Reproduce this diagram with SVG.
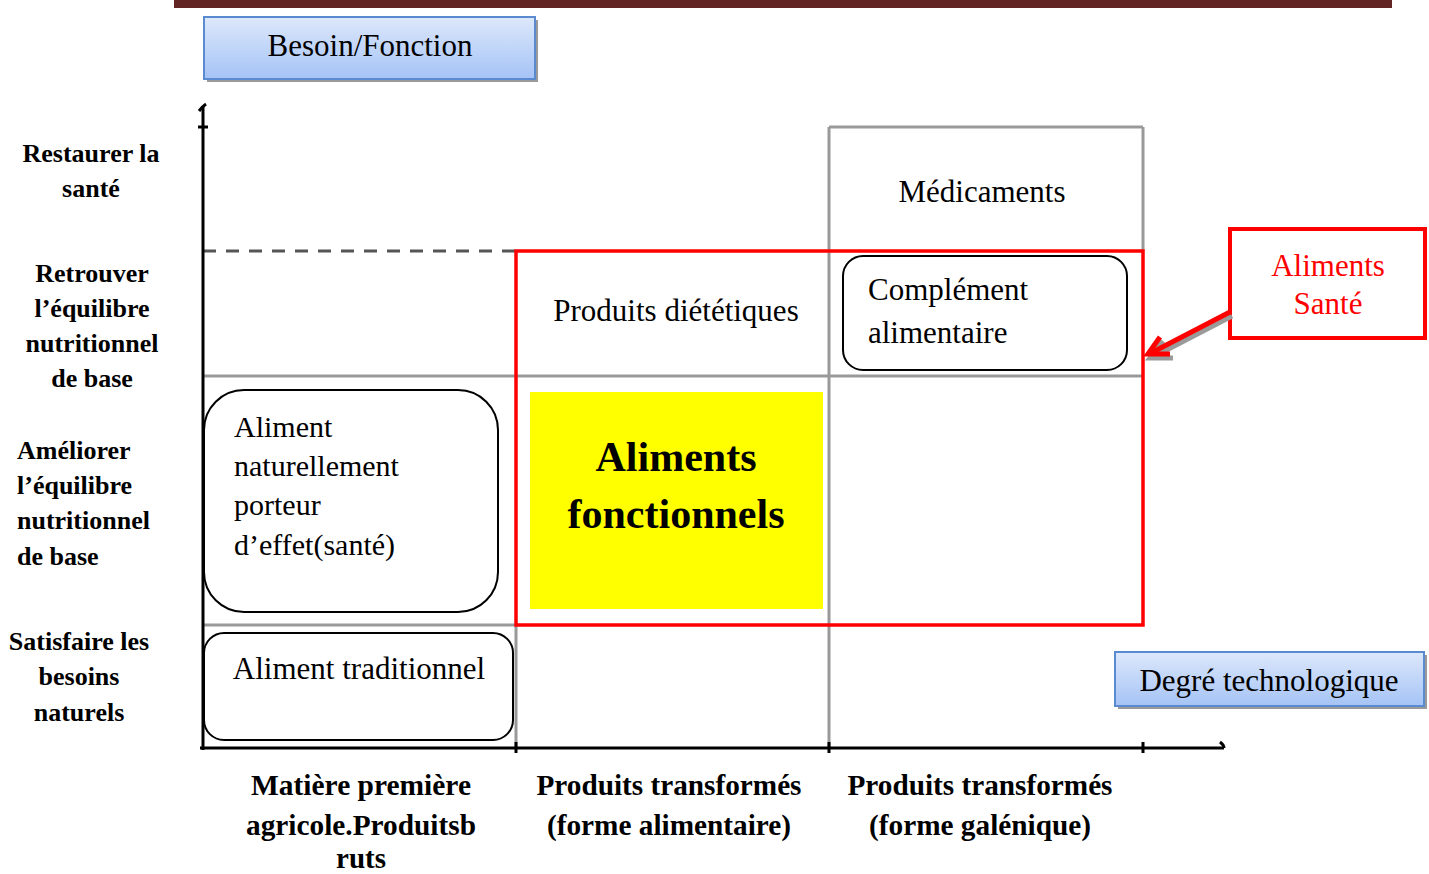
<svg xmlns="http://www.w3.org/2000/svg" width="1429" height="874" viewBox="0 0 1429 874">
<defs>
<linearGradient id="blue" x1="0" y1="0" x2="0" y2="1">
<stop offset="0" stop-color="#dde8fb"/>
<stop offset="1" stop-color="#a5c3f6"/>
</linearGradient>
<clipPath id="degClip"><rect x="1115" y="652" width="310" height="54"/></clipPath>
<style>
.reg{font-family:"Liberation Serif","Times New Roman",serif;font-size:31px;fill:#000}
.bold{font-family:"Liberation Serif","Times New Roman",serif;font-size:26px;font-weight:bold;fill:#000}
.axislbl{font-family:"Liberation Serif","Times New Roman",serif;font-size:30px;font-weight:bold;fill:#000}
.grid{stroke:#999;stroke-width:3;fill:none}
.axis{stroke:#000;stroke-width:3;fill:none}
.rbox{fill:#fff;stroke:#000;stroke-width:2}
.bluebox{fill:url(#blue);stroke:#5a8ad0;stroke-width:2}
.shadow{fill:#9a9a9a}
</style>
</defs>
<rect width="1429" height="874" fill="#fff"/>
<rect x="174" y="0" width="1218" height="8" fill="#632523"/>

<g id="besoin-fonction">
<rect class="shadow" x="207" y="20" width="331" height="62"/>
<rect class="bluebox" x="204" y="17" width="331" height="62"/>
<text class="reg" x="370" y="56" text-anchor="middle">Besoin/Fonction</text>
</g>

<g id="grid">
<line class="grid" x1="829" y1="127" x2="1143" y2="127"/>
<line class="grid" x1="1143" y1="127" x2="1143" y2="251"/>
<line class="grid" x1="829" y1="127" x2="829" y2="748"/>
<line class="grid" x1="203" y1="376" x2="1143" y2="376"/>
<line class="grid" x1="203" y1="625" x2="516" y2="625"/>
<line class="grid" x1="516" y1="625" x2="516" y2="748"/>
<line x1="203" y1="251" x2="516" y2="251" stroke="#555" stroke-width="3" stroke-dasharray="13,10"/>
<rect x="516" y="251" width="627" height="374" fill="none" stroke="#ff0000" stroke-width="3.5"/>
</g>

<g id="axes">
<line class="axis" x1="203" y1="106" x2="203" y2="750"/>
<path class="axis" d="M199 111 Q203 106 206 104" stroke-width="2"/>
<line class="axis" x1="198" y1="127" x2="208" y2="127" stroke-width="2"/>
<line class="axis" x1="200" y1="748" x2="1224" y2="748"/>
<path class="axis" d="M1220 742 Q1224 745 1224 748" stroke-width="2"/>
<line class="axis" x1="516" y1="742" x2="516" y2="753" stroke-width="2"/>
<line class="axis" x1="829" y1="742" x2="829" y2="753" stroke-width="2"/>
<line class="axis" x1="1143" y1="742" x2="1143" y2="753" stroke-width="2"/>
</g>

<g id="medicaments">
<text class="reg" x="982" y="202" text-anchor="middle">Médicaments</text>
</g>

<g id="produits-dietetiques">
<text class="reg" x="676" y="321" text-anchor="middle">Produits diététiques</text>
</g>

<g id="complement-alimentaire">
<rect class="rbox" x="843" y="256" width="284" height="114" rx="20"/>
<text class="reg" x="868" y="300">Complément</text>
<text class="reg" x="868" y="343">alimentaire</text>
</g>

<g id="aliment-naturellement">
<rect class="rbox" x="204" y="390" width="294" height="222" rx="40"/>
<text class="reg" x="234" y="437" style="font-size:30px">Aliment</text>
<text class="reg" x="234" y="476" style="font-size:30px">naturellement</text>
<text class="reg" x="234" y="515" style="font-size:30px">porteur</text>
<text class="reg" x="234" y="555" style="font-size:30px">d’effet(santé)</text>
</g>

<g id="aliment-traditionnel">
<rect class="rbox" x="204" y="633" width="309" height="107" rx="20"/>
<text class="reg" x="359" y="679" text-anchor="middle">Aliment traditionnel</text>
</g>

<g id="aliments-fonctionnels">
<rect x="530" y="392" width="293" height="217" fill="#ffff00"/>
<text x="676" y="471" text-anchor="middle" font-family="Liberation Serif, serif" font-size="42" font-weight="bold">Aliments</text>
<text x="676" y="528" text-anchor="middle" font-family="Liberation Serif, serif" font-size="42" font-weight="bold">fonctionnels</text>
</g>

<g id="aliments-sante">
<rect x="1230" y="229" width="195" height="109" fill="#fff" stroke="#ff0000" stroke-width="4"/>
<text class="reg" x="1328" y="276" text-anchor="middle" style="fill:#ff0000">Aliments</text>
<text class="reg" x="1328" y="314" text-anchor="middle" style="fill:#ff0000">Santé</text>
</g>

<g id="connectors">
<g stroke="#9a9a9a" stroke-width="5" fill="none" stroke-linecap="butt">
<line x1="1232" y1="316" x2="1153" y2="357"/>
<polyline points="1163,341 1150,358 1173,358"/>
</g>
<g stroke="#ff0000" stroke-width="5" fill="none" stroke-linejoin="miter">
<line x1="1230" y1="312" x2="1151" y2="353"/>
<polyline points="1160,337 1148,354 1170,354"/>
</g>
</g>

<g id="degre-technologique">
<rect class="shadow" x="1118" y="655" width="309" height="54"/>
<rect class="bluebox" x="1115" y="652" width="309" height="54"/>
<text class="reg" x="1269" y="691" text-anchor="middle" clip-path="url(#degClip)">Degré technologique</text>
</g>

<g id="y-labels">
<text class="bold" x="91" y="162" text-anchor="middle">Restaurer la</text>
<text class="bold" x="91" y="197" text-anchor="middle">santé</text>
<text class="bold" x="92" y="282" text-anchor="middle">Retrouver</text>
<text class="bold" x="92" y="317" text-anchor="middle">l’équilibre</text>
<text class="bold" x="92" y="352" text-anchor="middle">nutritionnel</text>
<text class="bold" x="92" y="387" text-anchor="middle">de base</text>
<text class="bold" x="17" y="459">Améliorer</text>
<text class="bold" x="17" y="494">l’équilibre</text>
<text class="bold" x="17" y="529">nutritionnel</text>
<text class="bold" x="17" y="565">de base</text>
<text class="bold" x="79" y="650" text-anchor="middle">Satisfaire les</text>
<text class="bold" x="79" y="685" text-anchor="middle">besoins</text>
<text class="bold" x="79" y="721" text-anchor="middle">naturels</text>
</g>

<g id="x-labels">
<text class="axislbl" x="361" y="795" text-anchor="middle" textLength="220" lengthAdjust="spacingAndGlyphs">Matière première</text>
<text class="axislbl" x="361" y="835" text-anchor="middle" textLength="230" lengthAdjust="spacingAndGlyphs">agricole.Produitsb</text>
<text class="axislbl" x="361" y="868" text-anchor="middle" textLength="50" lengthAdjust="spacingAndGlyphs">ruts</text>
<text class="axislbl" x="669" y="795" text-anchor="middle" textLength="265" lengthAdjust="spacingAndGlyphs">Produits transformés</text>
<text class="axislbl" x="669" y="835" text-anchor="middle" textLength="244" lengthAdjust="spacingAndGlyphs">(forme alimentaire)</text>
<text class="axislbl" x="980" y="795" text-anchor="middle" textLength="265" lengthAdjust="spacingAndGlyphs">Produits transformés</text>
<text class="axislbl" x="980" y="835" text-anchor="middle" textLength="222" lengthAdjust="spacingAndGlyphs">(forme galénique)</text>
</g>
</svg>
